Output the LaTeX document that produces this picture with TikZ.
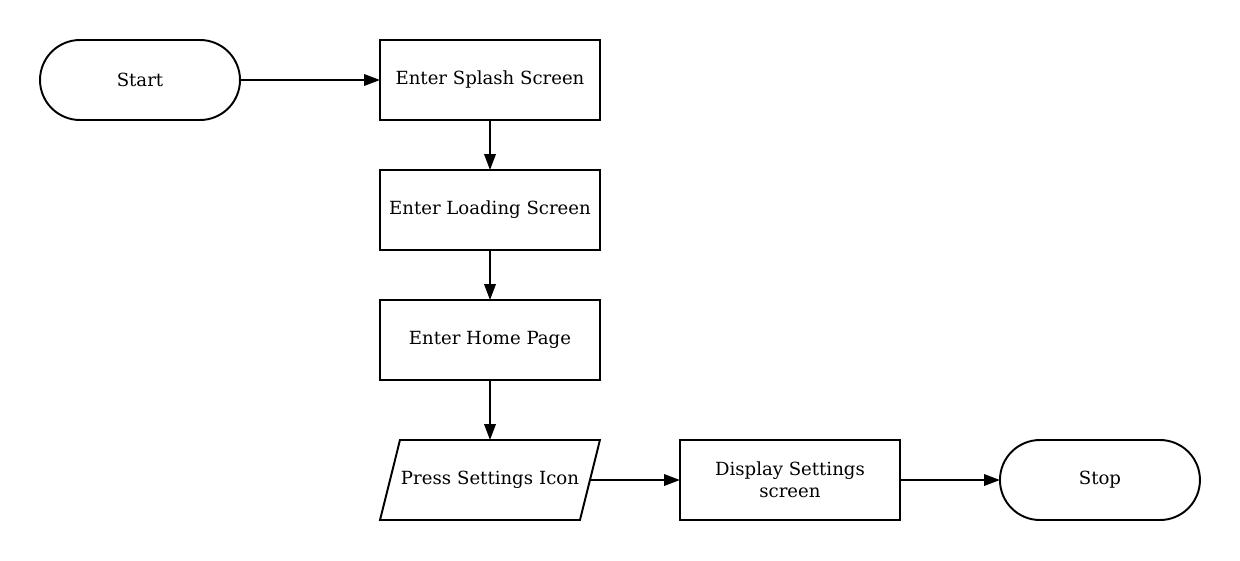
\documentclass[tikz,border=0pt]{standalone}
\usepackage{fontspec}
\setmainfont{DejaVu Serif}
\usepackage{xcolor}
\usepackage{tikz}
\usetikzlibrary{positioning,arrows.meta,shapes.geometric}
\definecolor{ink}{HTML}{000000}

\begin{document}
\begin{tikzpicture}[
    font=\fontsize{10.3}{12.5}\selectfont, line width=1.1pt, outer sep=0pt,
    terminal/.style={draw=ink, rounded corners=0.8cm, minimum width=4cm, minimum height=1.6cm},
    process/.style={draw=ink, minimum width=4.4cm, minimum height=1.6cm, align=center},
    inout/.style={draw=ink, trapezium, trapezium left angle=76, trapezium right angle=104,
                  text width=3.6cm, align=center, text height=7.5pt, text depth=2.5pt,
                  inner xsep=0pt, inner ysep=17.76pt},
    flow/.style={-{Triangle[length=9pt,width=6.5pt]}, draw=ink}
  ]
      \useasboundingbox (0,0) rectangle (24.8,-11.2);
      \node[terminal] (start) at (2.8,-1.6) {Start};
      \node[process, right=2.8cm of start] (splash) {Enter Splash Screen};
      \node[process, below=1cm of splash] (loading) {Enter Loading Screen};
      \node[process, below=1cm of loading] (home) {Enter Home Page};
      \node[inout, below=1.2cm of home] (press) {Press Settings Icon};
      \node[process, right=1.8cm of press] (display) {Display Settings\\screen};
      \node[terminal, right=2cm of display] (stop) {Stop};

      \draw[flow] (start) -- (splash);
      \draw[flow] (splash) -- (loading);
      \draw[flow] (loading) -- (home);
      \draw[flow] (home) -- (press);
      \draw[flow] (press) -- (display);
      \draw[flow] (display) -- (stop);
    \end{tikzpicture}
\end{document}
